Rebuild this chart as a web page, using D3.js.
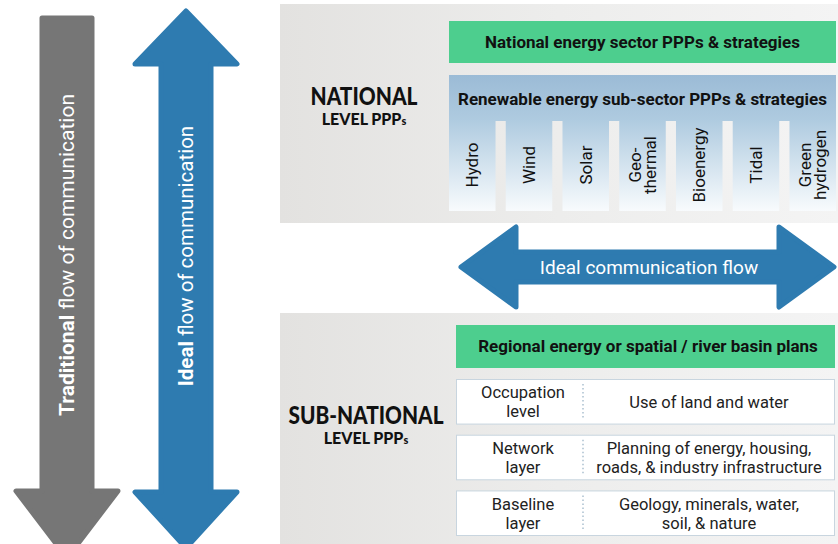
<!DOCTYPE html>
<html>
<head>
<meta charset="utf-8">
<script src="https://cdn.jsdelivr.net/npm/d3@7"></script>
<style>
  body { margin: 0; background: #ffffff; }
  svg { display: block; font-family: Roboto, sans-serif; }
  .level { font-family: Lato, "Open Sans", sans-serif; font-weight: 900; fill: #111; }
</style>
</head>
<body>
<script>

// sub-sector columns of the national level block
var techs = ['Hydro', 'Wind', 'Solar', 'Geo-\nthermal', 'Bioenergy', 'Tidal', 'Green\nhydrogen'];

// sub-national layers: left label, right description
var layers = ['Occupation\nlevel', 'Network\nlayer', 'Baseline\nlayer'];
var layerText = ['Use of land and water',
                 'Planning of energy, housing,\nroads, & industry infrastructure',
                 'Geology, minerals, water,\nsoil, & nature'];

var W = 838, H = 544;
var blue = '#2e7bb0', grey = '#767676', green = '#4dce8e';

var svg = d3.select('body').append('svg')
    .attr('width', W)
    .attr('height', H);

var defs = svg.append('defs');

function linGrad(id, x2, y2, stops) {
    var g = defs.append('linearGradient').attr('id', id)
        .attr('x1', 0).attr('y1', 0).attr('x2', x2).attr('y2', y2);
    stops.forEach(function(s) {
        g.append('stop').attr('offset', s[0]).attr('stop-color', s[1]);
    });
}
linGrad('panel', 1, 0, [[0, '#e3e2e0'], [0.5, '#ededec'], [1, '#f4f4f4']]);
linGrad('header', 0, 1, [[0, '#9bbbd6'], [1, '#afcbe0']]);
linGrad('col', 0, 1, [[0, '#afcbe0'], [1, '#f8fbfd']]);

// multi-line text helper, lines centred around (x,y)
function multiText(g, str, x, y, lh) {
    var lines = str.split('\n');
    var t = g.append('text')
        .attr('x', x).attr('y', y)
        .attr('text-anchor', 'middle');
    lines.forEach(function(l, i) {
        t.append('tspan')
            .attr('x', x)
            .attr('dy', i == 0 ? ((-(lines.length - 1) / 2) * lh) + 'px' : lh + 'px')
            .attr('dominant-baseline', 'central')
            .text(l);
    });
    return t;
}

/*
 * Vertical arrows on the left
 */
function vArrow(cx, shaftW, headW, top, headTop, headBot, bot, doubleHead, color) {
    var sw = shaftW / 2, hw = headW / 2;
    var pts;
    if (doubleHead) {
        pts = [[cx, top], [cx + hw, headTop], [cx + sw, headTop], [cx + sw, headBot], [cx + hw, headBot],
               [cx, bot], [cx - hw, headBot], [cx - sw, headBot], [cx - sw, headTop], [cx - hw, headTop]];
    } else {
        pts = [[cx - sw, top], [cx + sw, top], [cx + sw, headBot], [cx + hw, headBot],
               [cx, bot], [cx - hw, headBot], [cx - sw, headBot]];
    }
    svg.append('path')
        .attr('d', d3.line()(pts) + 'Z')
        .attr('fill', color)
        .attr('stroke', color)
        .attr('stroke-width', 5)
        .attr('stroke-linejoin', 'round');
}
vArrow(67, 50, 102, 18, 0, 491, 558, false, grey);
vArrow(186, 50, 102, 11, 64, 492, 548, true, blue);

function vLabel(x, y, bold, rest, size) {
    var t = svg.append('text')
        .attr('transform', 'translate(' + x + ',' + y + ') rotate(-90)')
        .attr('text-anchor', 'middle')
        .attr('dominant-baseline', 'central')
        .attr('fill', '#fff')
        .attr('font-size', size + 'px');
    t.append('tspan').attr('font-weight', 'bold').text(bold);
    t.append('tspan').text(rest);
}
vLabel(67, 255, 'Traditional', ' flow of communication', 21);
vLabel(186, 256, 'Ideal', ' flow of communication', 20.5);

// big level heading with "LEVEL PPPs" below it
function levelLabel(cx, y, big, bigLen) {
    svg.append('text').attr('class', 'level')
        .attr('x', cx).attr('y', y)
        .attr('text-anchor', 'middle')
        .attr('font-size', '25px')
        .attr('textLength', bigLen).attr('lengthAdjust', 'spacingAndGlyphs')
        .text(big);
    var t = svg.append('text').attr('class', 'level')
        .attr('x', cx).attr('y', y + 20)
        .attr('text-anchor', 'middle')
        .attr('font-size', '16px');
    t.append('tspan').text('LEVEL PPP');
    t.append('tspan').attr('font-size', '11px').text('s');
}

/*
 * National panel
 */
svg.append('rect').attr('x', 280).attr('y', 4).attr('width', W - 280).attr('height', 219)
    .attr('fill', 'url(#panel)');

var bx0 = 449, bx1 = 836;
svg.append('rect').attr('x', bx0).attr('y', 21).attr('width', bx1 - bx0).attr('height', 42)
    .attr('fill', green);
svg.append('text').attr('x', (bx0 + bx1) / 2).attr('y', 42)
    .attr('text-anchor', 'middle').attr('dominant-baseline', 'central')
    .attr('font-size', '17px').attr('font-weight', 'bold').attr('fill', '#111')
    .text('National energy sector PPPs & strategies');

svg.append('rect').attr('x', bx0).attr('y', 75).attr('width', bx1 - bx0).attr('height', 46)
    .attr('fill', 'url(#header)');
svg.append('text').attr('x', (bx0 + bx1) / 2).attr('y', 99)
    .attr('text-anchor', 'middle').attr('dominant-baseline', 'central')
    .attr('font-size', '17px').attr('font-weight', 'bold').attr('fill', '#111')
    .text('Renewable energy sub-sector PPPs & strategies');

var xCol = d3.scaleBand().domain(techs).range([bx0, bx1]).paddingInner(0.18);
var colTop = 120, colBot = 211;
var cols = svg.selectAll('g.col').data(techs).enter()
    .append('g').attr('class', 'col');
cols.append('rect')
    .attr('x', function(d) { return xCol(d); })
    .attr('y', colTop)
    .attr('width', xCol.bandwidth())
    .attr('height', colBot - colTop)
    .attr('fill', 'url(#col)');
cols.each(function(d) {
    var g = d3.select(this).append('g')
        .attr('transform', 'translate(' + (xCol(d) + xCol.bandwidth() / 2) + ',' + 165 + ') rotate(-90)');
    multiText(g, d, 0, 0, 15.5)
        .attr('font-size', '17px').attr('fill', '#111');
});

levelLabel(364, 105, 'NATIONAL', 107);

/*
 * Horizontal double arrow
 */
var hy = 267, hx0 = 461, hx1 = 834;
var hpts = [[hx0, hy], [hx0 + 55, hy - 40], [hx0 + 55, hy - 15], [hx1 - 55, hy - 15], [hx1 - 55, hy - 40],
            [hx1, hy], [hx1 - 55, hy + 40], [hx1 - 55, hy + 15], [hx0 + 55, hy + 15], [hx0 + 55, hy + 40]];
svg.append('path')
    .attr('d', d3.line()(hpts) + 'Z')
    .attr('fill', blue).attr('stroke', blue)
    .attr('stroke-width', 5).attr('stroke-linejoin', 'round');
svg.append('text').attr('x', 649).attr('y', hy)
    .attr('text-anchor', 'middle').attr('dominant-baseline', 'central')
    .attr('font-size', '19px').attr('fill', '#fff')
    .text('Ideal communication flow');

/*
 * Sub-national panel
 */
svg.append('rect').attr('x', 280).attr('y', 313).attr('width', W - 280).attr('height', H - 313)
    .attr('fill', 'url(#panel)');

var sx0 = 456, sx1 = 835, divX = 583;
svg.append('rect').attr('x', sx0).attr('y', 325).attr('width', sx1 - sx0).attr('height', 43)
    .attr('fill', green);
svg.append('text').attr('x', 648).attr('y', 346)
    .attr('text-anchor', 'middle').attr('dominant-baseline', 'central')
    .attr('font-size', '17px').attr('font-weight', 'bold').attr('fill', '#111')
    .text('Regional energy or spatial / river basin plans');

var yRow = d3.scaleBand().domain(layers).range([379, 535]).paddingInner(0.2);
var rows = svg.selectAll('g.row').data(layers).enter()
    .append('g').attr('class', 'row');
rows.append('rect')
    .attr('x', sx0 + 0.5)
    .attr('y', function(d) { return yRow(d) + 0.5; })
    .attr('width', sx1 - sx0 - 1)
    .attr('height', yRow.bandwidth())
    .attr('fill', '#fff')
    .attr('stroke', '#c8d5df');
rows.append('line')
    .attr('x1', divX).attr('x2', divX)
    .attr('y1', function(d) { return yRow(d) + 5; })
    .attr('y2', function(d) { return yRow(d) + yRow.bandwidth() - 4; })
    .attr('stroke', '#aac0cf').attr('stroke-width', 1.5)
    .attr('stroke-dasharray', '1.5,2.5');
rows.each(function(d, i) {
    var g = d3.select(this), cy = yRow(d) + yRow.bandwidth() / 2 + 1;
    multiText(g, d, 523, cy, 19).attr('font-size', '16.5px').attr('fill', '#222');
    multiText(g, layerText[i], 709, cy, 19).attr('font-size', '16.5px').attr('fill', '#222');
});

levelLabel(366, 424, 'SUB-NATIONAL', 155);

</script>
</body>
</html>
